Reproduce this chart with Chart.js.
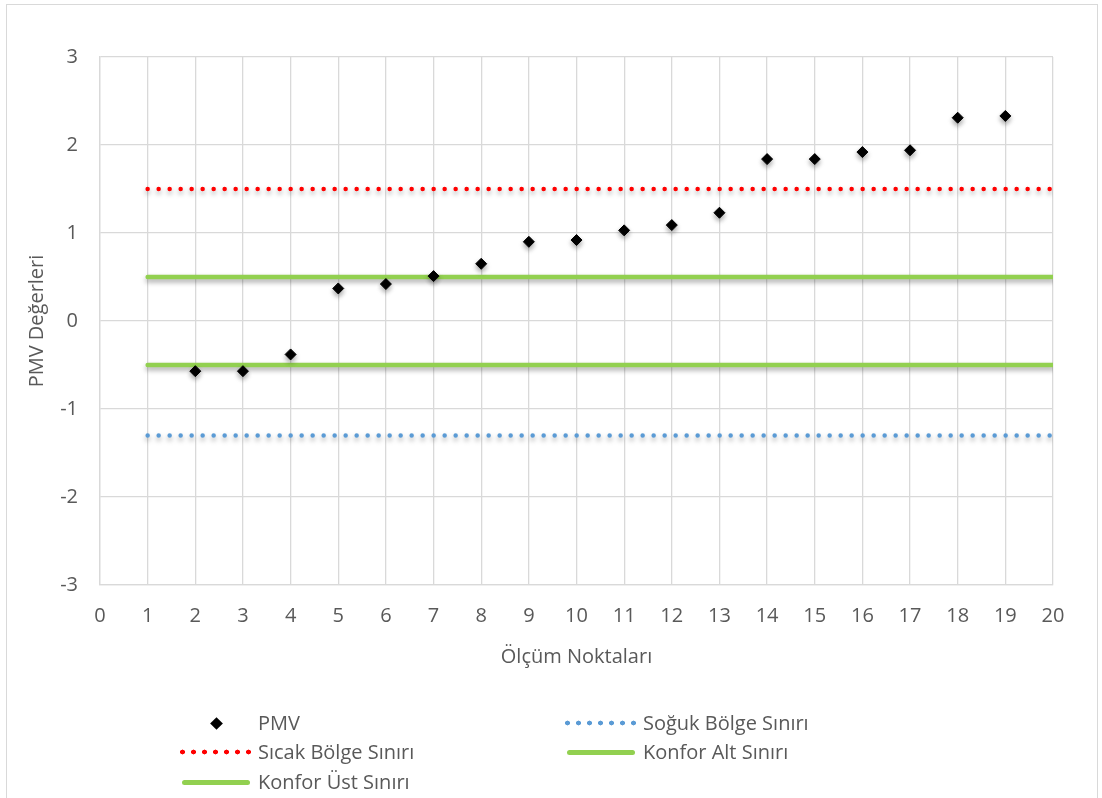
<!DOCTYPE html>
<html>
<head>
<meta charset="utf-8">
<script src="https://cdn.jsdelivr.net/npm/chart.js@4"></script>
<style>
  body { margin: 0; background: #fff; font-family: 'Open Sans', sans-serif; }
  #wrap { position: relative; width: 1102px; height: 798px; overflow: hidden; }
  #frame { position: absolute; left: 6px; top: 4px; width: 1092px; height: 820px; border: 1.5px solid #d9d9d9; box-sizing: border-box; }
  #chart { position: absolute; left: 0; top: 0; }
  .lg-sym { position: absolute; }
  .lg-text { position: absolute; font-size: 20px; line-height: 30px; color: #595959; white-space: nowrap; }
</style>
</head>
<body>
<div id="wrap">
  <div id="frame"></div>
  <canvas id="chart" width="1102" height="798"></canvas>
  <div id="legend"></div>
</div>
<script>
// measurement points and PMV values
const pointX = [2, 3, 4, 5, 6, 7, 8, 9, 10, 11, 12, 13, 14, 15, 16, 17, 18, 19];
const pmvValues = [-0.57, -0.57, -0.38, 0.37, 0.42, 0.51, 0.65, 0.90, 0.92, 1.03, 1.09, 1.23, 1.84, 1.84, 1.92, 1.94, 2.31, 2.33];

// limit lines run from first to last point
const limitX = [1, 20];
const sogukLimit = -1.3;
const sicakLimit = 1.5;
const konforAlt = -0.5;
const konforUst = 0.5;

const xTicks = { min: 0, max: 20, step: 1 };
const yTicks = { min: -3, max: 3, step: 1 };

const labels = ['PMV', 'Soğuk Bölge Sınırı', 'Sıcak Bölge Sınırı', 'Konfor Alt Sınırı', 'Konfor Üst Sınırı'];

const RED = '#ff0000', BLUE = '#5b9bd5', GREEN = '#92d050', TXT = '#595959', GRID = '#d9d9d9';

const pmvData = pointX.map((x, i) => ({ x, y: pmvValues[i] }));
const flat = v => limitX.map(x => ({ x, y: v }));

Chart.defaults.font.family = "'Open Sans', sans-serif";
Chart.defaults.font.size = 20;
Chart.defaults.color = TXT;

// soft drop shadow like the office chart
const shadowPlugin = {
  id: 'shadow',
  beforeDatasetDraw(chart) {
    const ctx = chart.ctx;
    ctx.save();
    ctx.shadowColor = 'rgba(0,0,0,0.35)';
    ctx.shadowBlur = 5;
    ctx.shadowOffsetY = 3;
  },
  afterDatasetDraw(chart) {
    chart.ctx.restore();
  }
};

const lineSet = (label, data, color, dotted) => ({
  label, data,
  type: 'line',
  borderColor: color,
  backgroundColor: color,
  borderWidth: dotted ? 4.5 : 4.5,
  borderDash: dotted ? [0, 11] : [],
  borderCapStyle: 'round',
  pointRadius: 0,
  fill: false,
  _dotted: dotted
});

const chart = new Chart(document.getElementById('chart'), {
  type: 'scatter',
  data: {
    datasets: [
      {
        label: labels[0], data: pmvData,
        pointStyle: 'rectRot', pointRadius: 5.5, pointHoverRadius: 5.5,
        backgroundColor: '#000', borderColor: '#000', borderWidth: 1
      },
      lineSet(labels[1], flat(sogukLimit), BLUE, true),
      lineSet(labels[2], flat(sicakLimit), RED, true),
      lineSet(labels[3], flat(konforAlt), GREEN, false),
      lineSet(labels[4], flat(konforUst), GREEN, false)
    ]
  },
  options: {
    responsive: false,
    animation: false,
    layout: { padding: { left: 10, top: 57, right: 49, bottom: 113 } },
    plugins: { legend: { display: false }, tooltip: { enabled: false } },
    scales: {
      x: {
        type: 'linear', min: xTicks.min, max: xTicks.max,
        ticks: { stepSize: xTicks.step, padding: 19, color: TXT },
        grid: { color: GRID, lineWidth: 1.3, drawTicks: false },
        border: { color: GRID, width: 1.3 },
        title: { display: true, text: 'Ölçüm Noktaları', color: TXT, padding: { top: 0, bottom: 16 } },
        afterFit(s) { s.height = 100; }
      },
      y: {
        min: yTicks.min, max: yTicks.max,
        ticks: { stepSize: yTicks.step, padding: 22, color: TXT },
        grid: { color: GRID, lineWidth: 1.3, drawTicks: false },
        border: { color: GRID, width: 1.3 },
        title: { display: true, text: 'PMV Değerleri', color: TXT, padding: { top: 15, bottom: 0 } },
        afterFit(s) { s.width = 90; }
      }
    }
  },
  plugins: [shadowPlugin]
});

// html legend, two columns like the original
const legend = document.getElementById('legend');
const cols = [182, 567];
const rows = [723, 752, 782];
chart.data.datasets.forEach((ds, i) => {
  const left = cols[i % 2];
  const cy = rows[Math.floor(i / 2)];
  const sym = document.createElement('div');
  sym.className = 'lg-sym';
  if (i === 0) {
    Object.assign(sym.style, { left: '212px', top: (cy - 4.5) + 'px', width: '9px', height: '9px', background: '#000', transform: 'rotate(45deg)' });
  } else if (ds._dotted) {
    Object.assign(sym.style, {
      left: (left - 5.5) + 'px', top: (cy - 3) + 'px', width: '77px', height: '6px',
      background: `radial-gradient(circle, ${ds.borderColor} 2.2px, transparent 2.7px) 0 0 / 11px 6px repeat-x`
    });
  } else {
    Object.assign(sym.style, { left: left + 'px', top: (cy - 2.5) + 'px', width: '68px', height: '5px', background: ds.borderColor, borderRadius: '3px' });
  }
  legend.appendChild(sym);
  const t = document.createElement('div');
  t.className = 'lg-text';
  t.textContent = ds.label;
  t.style.left = (left + 76) + 'px';
  t.style.top = (cy - 15) + 'px';
  legend.appendChild(t);
});
</script>
</body>
</html>
